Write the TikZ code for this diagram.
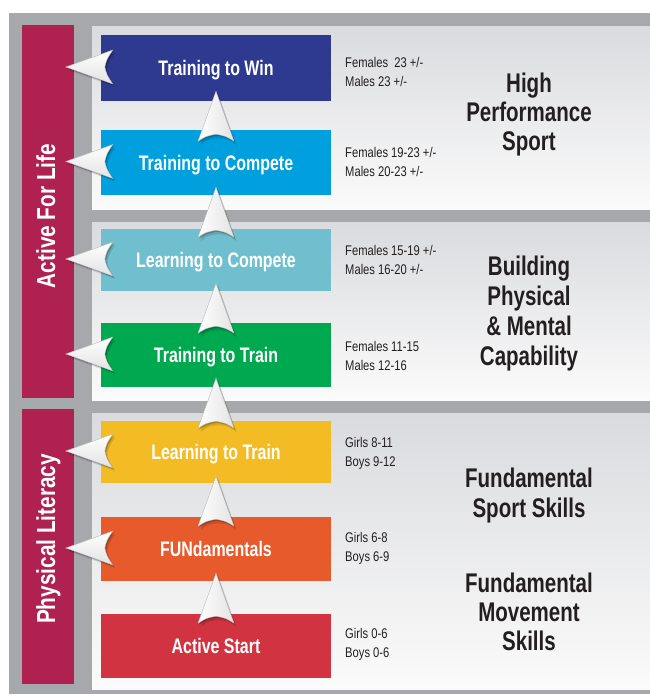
\documentclass[tikz,border=0pt]{standalone}
\usepackage{fontspec}
\setmainfont{Liberation Sans}[FakeStretch=0.8]
\newfontfamily\condfont{Liberation Sans}[FakeStretch=0.76]
\usetikzlibrary{calc}
\definecolor{framegray}{HTML}{A7A8AC}
\definecolor{panelTop}{HTML}{DADBDE}
\definecolor{panelBot}{HTML}{FBFBFB}
\definecolor{barmag}{HTML}{AF2150}
\definecolor{cwin}{HTML}{2E3A8F}
\definecolor{ccomp}{HTML}{00A0DE}
\definecolor{clcomp}{HTML}{70BFCE}
\definecolor{cttrain}{HTML}{00A84F}
\definecolor{cltrain}{HTML}{F4BC24}
\definecolor{cfund}{HTML}{E65A2C}
\definecolor{cact}{HTML}{D23341}
\definecolor{ink}{HTML}{231F20}
\tikzset{
  stage/.style={rectangle, inner sep=0pt, minimum width=230pt, text=white,
    font=\condfont\fontsize{21}{23}\selectfont\bfseries, text height=15pt, text depth=0pt},
  age/.style={anchor=base west, inner sep=0pt, text=ink, font=\fontsize{14}{16}\selectfont},
  big/.style={anchor=base, inner sep=0pt, text=ink, font=\condfont\fontsize{27}{29}\selectfont\bfseries},
  vlabel/.style={anchor=base, inner sep=0pt, rotate=90, text=white, font=\fontsize{26}{28}\selectfont\bfseries},
  uparr/.pic={
    \fill[black,opacity=.12] (2.5,3) -- (20.5,54) .. controls (12.5,48) .. (2.5,47) .. controls (-7.5,48) .. (-15.5,54) -- cycle;
    \fill[black,opacity=.22] (1.2,1.5) -- (19.2,51.5) .. controls (11.2,46.5) .. (1.2,44.5) .. controls (-8.8,46.5) .. (-16.8,51.5) -- cycle;
    \shade[left color=white, right color=gray!22, draw=gray!55, line width=.4pt]
      (0,0) -- (18,50) .. controls (10,45) .. (0,43) .. controls (-10,45) .. (-18,50) -- cycle;
  },
  leftarr/.pic={
    \fill[black,opacity=.12] (2.5,3) -- (49.5,-14) .. controls (43.5,-5) .. (41.5,3) .. controls (43.5,11) .. (49.5,20) -- cycle;
    \fill[black,opacity=.22] (1.2,1.5) -- (48.2,-15.5) .. controls (42.2,-6.5) .. (40.2,1.5) .. controls (42.2,9.5) .. (48.2,18.5) -- cycle;
    \shade[top color=white, bottom color=gray!22, draw=gray!55, line width=.4pt]
      (0,0) -- (47,-17) .. controls (41,-8) .. (39,0) .. controls (41,8) .. (47,17) -- cycle;
  }
}
\begin{document}
\begin{tikzpicture}[x=1pt,y=-1pt]
\useasboundingbox (0,0) rectangle (650,696);
\fill[white] (0,0) rectangle (650,696);
% frame
\fill[framegray] (9,13) rectangle (650,694);
% panels
\shade[top color=panelTop, bottom color=panelBot] (92,26) rectangle (650,209);
\shade[top color=panelTop, bottom color=panelBot] (92,222) rectangle (650,400);
\shade[top color=panelTop, bottom color=panelBot] (92,413) rectangle (650,689);
% side bars
\fill[barmag] (22,25) rectangle (74,398);
\fill[barmag] (22,409) rectangle (74,684);
\node[vlabel] (afl) at (55,216) {Active For Life};
\node[vlabel] (pl) at (55,539) {Physical Literacy};
% stage boxes
\node[stage, fill=cwin, minimum height=66pt] (win) at (216,68) {Training to Win};
\node[stage, fill=ccomp, minimum height=65pt] (comp) at (216,162.5) {Training to Compete};
\node[stage, fill=clcomp, minimum height=62pt] (lcomp) at (216,260) {Learning to Compete};
\node[stage, fill=cttrain, minimum height=64pt] (ttrain) at (216,355) {Training to Train};
\node[stage, fill=cltrain, minimum height=62pt] (ltrain) at (216,452) {Learning to Train};
\node[stage, fill=cfund, minimum height=64pt] (fund) at (216,549) {FUNdamentals};
\node[stage, fill=cact, minimum height=64pt] (act) at (216,646) {Active Start};
% up arrows
\pic at ($(win.south)+(0,-10)$) {uparr};
\pic at ($(comp.south)+(0,-8)$) {uparr};
\pic at ($(lcomp.south)+(0,-8)$) {uparr};
\pic at ($(ttrain.south)+(0,-9)$) {uparr};
\pic at ($(ltrain.south)+(0,-7)$) {uparr};
\pic at ($(fund.south)+(0,-8)$) {uparr};
% left arrows
\foreach \n in {win,comp,lcomp,ttrain,ltrain,fund}
  \pic at ($(\n.west)+(-35,-1)$) {leftarr};
% ages
\node[age] (a1) at (345,67) {Females\ \ 23 +/-};
\node[age] (a2) at (345,86) {Males 23 +/-};
\node[age] (a3) at (345,157) {Females 19-23 +/-};
\node[age] (a4) at (345,176) {Males 20-23 +/-};
\node[age] (a5) at (345,255) {Females 15-19 +/-};
\node[age] (a6) at (345,274) {Males 16-20 +/-};
\node[age] (a7) at (345,351) {Females 11-15};
\node[age] (a8) at (345,370) {Males 12-16};
\node[age] (a9) at (345,447) {Girls 8-11};
\node[age] (a10) at (345,466) {Boys 9-12};
\node[age] (a11) at (345,542) {Girls 6-8};
\node[age] (a12) at (345,561) {Boys 6-9};
\node[age] (a13) at (345,638) {Girls 0-6};
\node[age] (a14) at (345,657) {Boys 0-6};
% big labels
\node[big] (b1) at (529,92) {High};
\node[big] (b2) at (529,121) {Performance};
\node[big] (b3) at (529,150) {Sport};
\node[big] (b4) at (529,275) {Building};
\node[big] (b5) at (529,305) {Physical};
\node[big] (b6) at (529,335) {\& Mental};
\node[big] (b7) at (529,365) {Capability};
\node[big] (b8) at (529,487) {Fundamental};
\node[big] (b9) at (529,517) {Sport Skills};
\node[big] (b10) at (529,592) {Fundamental};
\node[big] (b11) at (529,621) {Movement};
\node[big] (b12) at (529,650) {Skills};
\end{tikzpicture}
\end{document}
